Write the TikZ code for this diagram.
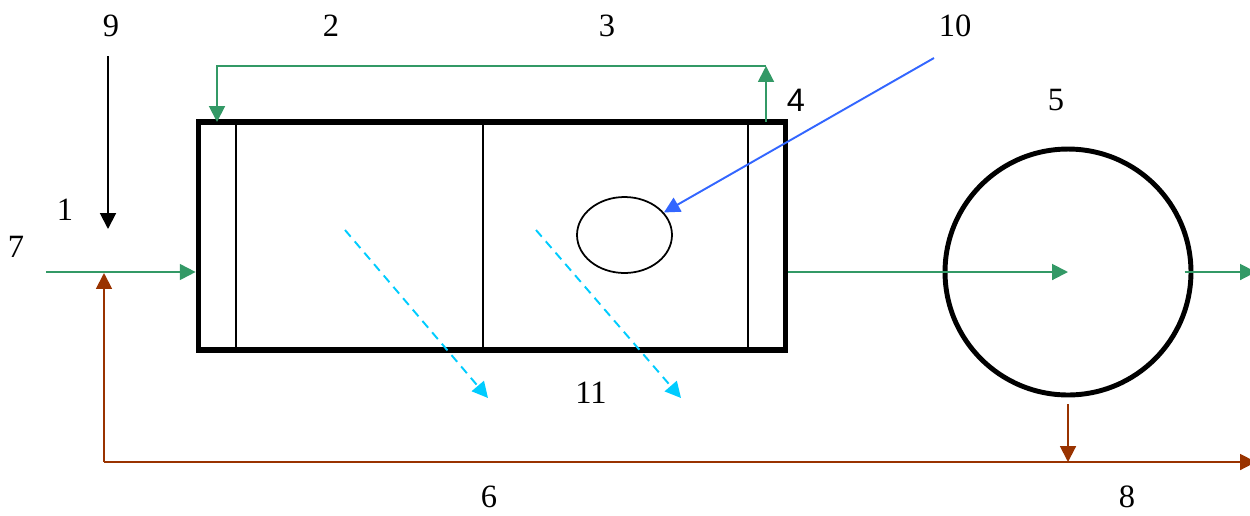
\documentclass[tikz,border=0pt]{standalone}
\usepackage{fontspec}
\setmainfont{Liberation Serif}
\newfontfamily\labelsans{Liberation Sans}
\usetikzlibrary{arrows.meta, shapes.geometric}

\definecolor{flowgreen}{RGB}{51,153,102}
\definecolor{retbrown}{RGB}{153,51,0}
\definecolor{ptblue}{RGB}{51,102,255}
\definecolor{dropcyan}{RGB}{0,204,255}

\begin{document}
\begin{tikzpicture}[x=0.02cm, y=-0.02cm,
      tip/.style={-{Triangle[length=9pt, width=9pt]}},
      flow/.style={draw=flowgreen, line width=1.1pt, tip},
      ret/.style={draw=retbrown, line width=1.1pt, tip},
      drop/.style={draw=dropcyan, line width=1.1pt, dash pattern=on 5pt off 3.5pt, tip},
      tankbox/.style={draw, line width=3.3pt, minimum width=11.74cm,
        minimum height=4.55cm, inner sep=0pt},
      wall/.style={draw, line width=1pt},
      lbl/.style={inner sep=0pt, font=\fontsize{18.5}{20}\selectfont}]
    \useasboundingbox (0,0) rectangle (1250,515);

    % tank, separator and bubble
    \node[tankbox] (tank) at (492,236) {};
    \foreach \x in {236, 483, 748} {
      \draw[wall] (\x,122) -- (\x,349.5);
    }
    \node[draw, circle, line width=2.8pt, minimum size=4.92cm, inner sep=0pt]
      (sep) at (1068,272) {};
    \node[draw, ellipse, line width=1pt, minimum width=1.9cm,
      minimum height=1.52cm, inner sep=0pt] (bubble) at (624.5,235) {};

    % labels
    \foreach \n/\x/\y in {9/111/26, 2/331/26, 3/607/26, 10/955/26, 5/1056/100,
        1/65/210, 7/16/247, 11/591/393, 6/489/497, 8/1127/497} {
      \node[lbl] (l\n) at (\x,\y) {\n};
    }
    \node[lbl, font=\labelsans\fontsize{18.5}{20}\selectfont] (l4) at (796,100) {4};

    % free ends
    \coordinate (in7) at (46,272);
    \coordinate (dose) at (108,56);
    \coordinate (doseend) at (108,229);
    \coordinate (rec) at (766,66);
    \coordinate (reccorner) at (217,66);
    \coordinate (recend) at (217,122);
    \coordinate (recstart) at (766,122);
    \coordinate (out) at (1256,272);
    \coordinate (sludge) at (1068,404);
    \coordinate (sludgejoin) at (1068,462);
    \coordinate (retcorner) at (104,462);
    \coordinate (retend) at (104,273);
    \coordinate (waste) at (1256,462);
    \coordinate (ptr) at (934,58);

    % flows
    \draw[flow] (in7) -- (in7 -| tank.west);
    \draw[flow] (in7 -| tank.east) -- (sep.center);
    \draw[flow] ([xshift=-5pt]sep.east) -- (out);
    \draw[flow] (recstart) -- (rec);
    \draw[flow] (rec) -- (reccorner) -- (recend);
    \draw[line width=1.1pt, tip] (dose) -- (doseend);
    \draw[ret] (retcorner) -- (retend);
    \draw[ret] (retcorner) -- (waste);
    \draw[ret] (sludge) -- (sludgejoin);
    \draw[draw=ptblue, line width=1.1pt, tip] (ptr) -- (bubble);
    \foreach \a/\b in {345/488, 536/681} {
      \draw[drop] (\a,230) -- (\b,398);
    }
  \end{tikzpicture}
\end{document}
